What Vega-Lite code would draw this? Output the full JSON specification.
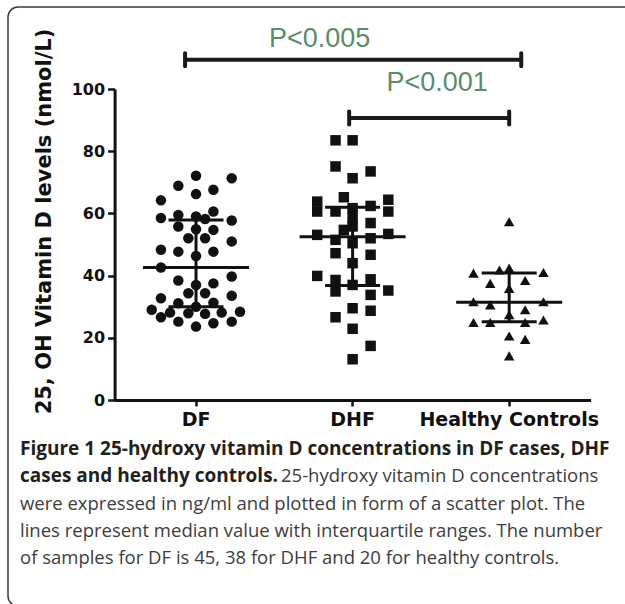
{
  "$schema": "https://vega.github.io/schema/vega-lite/v6.json",
  "autosize": {"type": "none"},
  "padding": {"left": 8, "top": 7, "right": -13, "bottom": -2},
  "width": 630,
  "height": 599,
  "background": "white",
  "config": {
    "view": {"stroke": "#3a3a3a", "strokeWidth": 1.5, "cornerRadius": 10, "fill": "white"}
  },
  "datasets": {
    "points": [
      {"group": "DF", "off": 0, "value": 72.1},
      {"group": "DF", "off": -0.113, "value": 68.9},
      {"group": "DF", "off": 0.228, "value": 71.3},
      {"group": "DF", "off": 0, "value": 66.2},
      {"group": "DF", "off": 0.111, "value": 67.6},
      {"group": "DF", "off": -0.224, "value": 64.2},
      {"group": "DF", "off": -0.224, "value": 58.5},
      {"group": "DF", "off": -0.113, "value": 59.5},
      {"group": "DF", "off": 0, "value": 59.0},
      {"group": "DF", "off": 0.111, "value": 60.6},
      {"group": "DF", "off": 0.228, "value": 57.7},
      {"group": "DF", "off": -0.113, "value": 55.8},
      {"group": "DF", "off": 0.111, "value": 54.7},
      {"group": "DF", "off": -0.049, "value": 52.0},
      {"group": "DF", "off": 0.058, "value": 52.0},
      {"group": "DF", "off": 0.228, "value": 51.0},
      {"group": "DF", "off": 0, "value": 54.9},
      {"group": "DF", "off": -0.224, "value": 48.3},
      {"group": "DF", "off": -0.113, "value": 47.7},
      {"group": "DF", "off": 0, "value": 46.3},
      {"group": "DF", "off": 0.111, "value": 47.7},
      {"group": "DF", "off": -0.224, "value": 42.6},
      {"group": "DF", "off": -0.113, "value": 38.4},
      {"group": "DF", "off": 0, "value": 37.0},
      {"group": "DF", "off": 0.111, "value": 37.5},
      {"group": "DF", "off": 0.228, "value": 39.7},
      {"group": "DF", "off": -0.049, "value": 34.3},
      {"group": "DF", "off": 0.058, "value": 34.3},
      {"group": "DF", "off": 0.228, "value": 33.5},
      {"group": "DF", "off": -0.224, "value": 32.7},
      {"group": "DF", "off": -0.113, "value": 31.1},
      {"group": "DF", "off": 0.111, "value": 31.3},
      {"group": "DF", "off": 0, "value": 30.0},
      {"group": "DF", "off": -0.283, "value": 29.0},
      {"group": "DF", "off": -0.166, "value": 28.1},
      {"group": "DF", "off": -0.049, "value": 27.9},
      {"group": "DF", "off": 0.058, "value": 27.7},
      {"group": "DF", "off": 0.164, "value": 28.1},
      {"group": "DF", "off": 0.281, "value": 28.4},
      {"group": "DF", "off": -0.224, "value": 26.6},
      {"group": "DF", "off": -0.113, "value": 25.2},
      {"group": "DF", "off": 0, "value": 23.6},
      {"group": "DF", "off": 0.111, "value": 24.7},
      {"group": "DF", "off": 0.228, "value": 25.2},
      {"group": "DF", "off": 0.058, "value": 58.2},
      {"group": "DHF", "off": -0.109, "value": 83.5},
      {"group": "DHF", "off": 0, "value": 83.5},
      {"group": "DHF", "off": -0.109, "value": 75.1},
      {"group": "DHF", "off": 0, "value": 71.3},
      {"group": "DHF", "off": 0.115, "value": 73.5},
      {"group": "DHF", "off": -0.056, "value": 65.2},
      {"group": "DHF", "off": -0.226, "value": 63.8},
      {"group": "DHF", "off": -0.226, "value": 60.6},
      {"group": "DHF", "off": -0.109, "value": 60.6},
      {"group": "DHF", "off": 0, "value": 61.7},
      {"group": "DHF", "off": 0.115, "value": 62.4},
      {"group": "DHF", "off": 0.228, "value": 64.4},
      {"group": "DHF", "off": 0.228, "value": 60.6},
      {"group": "DHF", "off": 0.115, "value": 56.9},
      {"group": "DHF", "off": 0, "value": 55.8},
      {"group": "DHF", "off": -0.056, "value": 54.7},
      {"group": "DHF", "off": -0.226, "value": 53.1},
      {"group": "DHF", "off": -0.109, "value": 51.5},
      {"group": "DHF", "off": -0.109, "value": 47.2},
      {"group": "DHF", "off": 0, "value": 50.4},
      {"group": "DHF", "off": 0.115, "value": 52.0},
      {"group": "DHF", "off": 0.228, "value": 53.4},
      {"group": "DHF", "off": 0.115, "value": 46.7},
      {"group": "DHF", "off": 0, "value": 44.0},
      {"group": "DHF", "off": -0.226, "value": 39.9},
      {"group": "DHF", "off": -0.109, "value": 38.6},
      {"group": "DHF", "off": -0.109, "value": 34.9},
      {"group": "DHF", "off": 0, "value": 37.0},
      {"group": "DHF", "off": 0.115, "value": 38.8},
      {"group": "DHF", "off": 0.115, "value": 33.8},
      {"group": "DHF", "off": 0.228, "value": 35.2},
      {"group": "DHF", "off": 0, "value": 29.5},
      {"group": "DHF", "off": 0.115, "value": 28.7},
      {"group": "DHF", "off": -0.109, "value": 26.6},
      {"group": "DHF", "off": 0, "value": 22.9},
      {"group": "DHF", "off": 0.115, "value": 17.4},
      {"group": "DHF", "off": 0, "value": 13.1},
      {"group": "DHF", "off": 0, "value": 58.5},
      {"group": "Healthy Controls", "off": -0.228, "value": 40.8},
      {"group": "Healthy Controls", "off": -0.062, "value": 41.8},
      {"group": "Healthy Controls", "off": 0, "value": 42.4},
      {"group": "Healthy Controls", "off": 0.219, "value": 41.0},
      {"group": "Healthy Controls", "off": -0.121, "value": 37.5},
      {"group": "Healthy Controls", "off": 0.102, "value": 38.4},
      {"group": "Healthy Controls", "off": 0, "value": 35.9},
      {"group": "Healthy Controls", "off": -0.228, "value": 31.6},
      {"group": "Healthy Controls", "off": -0.121, "value": 30.6},
      {"group": "Healthy Controls", "off": 0.219, "value": 31.6},
      {"group": "Healthy Controls", "off": 0.102, "value": 29.0},
      {"group": "Healthy Controls", "off": 0, "value": 27.4},
      {"group": "Healthy Controls", "off": -0.228, "value": 24.9},
      {"group": "Healthy Controls", "off": -0.121, "value": 24.9},
      {"group": "Healthy Controls", "off": 0.102, "value": 24.9},
      {"group": "Healthy Controls", "off": 0.219, "value": 25.7},
      {"group": "Healthy Controls", "off": 0, "value": 20.6},
      {"group": "Healthy Controls", "off": 0.102, "value": 19.5},
      {"group": "Healthy Controls", "off": 0, "value": 14.2},
      {"group": "Healthy Controls", "off": 0, "value": 57.3}
    ],
    "summary": [
      {"group": "DF", "median": 42.6, "q1": 30.0, "q3": 57.9},
      {"group": "DHF", "median": 52.5, "q1": 36.8, "q3": 62.0},
      {"group": "Healthy Controls", "median": 31.4, "q1": 25.2, "q3": 40.8}
    ],
    "brackets": [
      {"label": "P<0.005", "x1": 0.93, "x2": 3.077, "level": 109.4, "tx": 1.79, "ty": 113.5},
      {"label": "P<0.001", "x1": 1.978, "x2": 3.0, "level": 90.7, "tx": 2.54, "ty": 99.4}
    ],
    "caption": [
      {"line": 1, "seg": 1, "bold": true, "text": "Figure 1 25-hydroxy vitamin D concentrations in DF cases, DHF"},
      {"line": 2, "seg": 1, "bold": true, "text": "cases and healthy controls."},
      {"line": 2, "seg": 2, "bold": false, "text": "25-hydroxy vitamin D concentrations"},
      {"line": 3, "seg": 1, "bold": false, "text": "were expressed in ng/ml and plotted in form of a scatter plot. The"},
      {"line": 4, "seg": 1, "bold": false, "text": "lines represent median value with interquartile ranges. The number"},
      {"line": 5, "seg": 1, "bold": false, "text": "of samples for DF is 45, 38 for DHF and 20 for healthy controls."}
    ]
  },
  "layer": [
    {
      "layer": [
        {
          "layer": [
            {
              "data": {"name": "points"},
              "mark": {"type": "point", "filled": true, "opacity": 1, "color": "#111111", "size": 110},
              "encoding": {
                "x": {"field": "group", "type": "nominal", "sort": ["DF", "DHF", "Healthy Controls"],
                  "scale": {"type": "band", "domain": ["DF", "DHF", "Healthy Controls"], "range": [106.6, 582.6], "paddingInner": 0, "paddingOuter": 0.02},
                  "axis": {"orient": "bottom", "offset": -206, "title": null, "labelAngle": 0, "labelFont": "DejaVu Sans", "labelFontWeight": "bold", "labelFontSize": 19, "labelColor": "#111111", "labelPadding": 4, "tickSize": 6, "tickWidth": 2.5, "tickColor": "#111111", "domainWidth": 3, "domainColor": "#111111", "labelOverlap": false, "labelBound": false, "grid": false}},
                "xOffset": {"field": "off", "type": "quantitative", "scale": {"domain": [-0.5, 0.5]}},
                "y": {"field": "value", "type": "quantitative",
                  "scale": {"domain": [0, 100], "range": [393, 82], "nice": false, "zero": false},
                  "axis": {"orient": "left", "offset": -106.6, "values": [0, 20, 40, 60, 80, 100], "title": "25, OH Vitamin D levels (nmol/L)", "titleFont": "DejaVu Sans", "titleFontWeight": "bold", "titleFontSize": 21, "titleColor": "#111111", "titlePadding": 17, "titleY": 214, "labelFont": "DejaVu Sans", "labelFontWeight": "bold", "labelFontSize": 16, "labelColor": "#111111", "labelPadding": 3, "tickSize": 7, "tickWidth": 2.5, "tickColor": "#111111", "domainWidth": 3, "domainColor": "#111111", "grid": false}},
                "shape": {"field": "group", "type": "nominal", "scale": {"domain": ["DF", "DHF", "Healthy Controls"], "range": ["circle", "square", "triangle-up"]}, "legend": null}
              }
            },
            {
              "data": {"name": "summary"},
              "mark": {"type": "tick", "orient": "horizontal", "size": 106, "thickness": 3, "color": "#111111", "opacity": 1},
              "encoding": {
                "x": {"field": "group", "type": "nominal"},
                "y": {"field": "median", "type": "quantitative"}
              }
            },
            {
              "data": {"name": "summary"},
              "mark": {"type": "tick", "orient": "horizontal", "size": 55, "thickness": 3, "color": "#111111", "opacity": 1},
              "encoding": {
                "x": {"field": "group", "type": "nominal"},
                "y": {"field": "q1", "type": "quantitative"}
              }
            },
            {
              "data": {"name": "summary"},
              "mark": {"type": "tick", "orient": "horizontal", "size": 55, "thickness": 3, "color": "#111111", "opacity": 1},
              "encoding": {
                "x": {"field": "group", "type": "nominal"},
                "y": {"field": "q3", "type": "quantitative"}
              }
            },
            {
              "data": {"name": "summary"},
              "mark": {"type": "rule", "strokeWidth": 3, "color": "#111111"},
              "encoding": {
                "x": {"field": "group", "type": "nominal"},
                "y": {"field": "q1", "type": "quantitative"},
                "y2": {"field": "q3"}
              }
            }
          ]
        },
        {
          "data": {"name": "brackets"},
          "layer": [
            {
              "mark": {"type": "rule", "strokeWidth": 4, "color": "#1a1a1a"},
              "encoding": {
                "x": {"field": "x1", "type": "quantitative", "scale": {"domain": [0.48, 3.52], "range": [106.6, 582.6], "nice": false, "zero": false}, "axis": null},
                "x2": {"field": "x2"},
                "y": {"field": "level", "type": "quantitative"}
              }
            },
            {
              "mark": {"type": "tick", "orient": "vertical", "size": 17, "thickness": 4, "color": "#1a1a1a", "opacity": 1, "cornerRadius": 2},
              "encoding": {
                "x": {"field": "x1", "type": "quantitative"},
                "y": {"field": "level", "type": "quantitative"}
              }
            },
            {
              "mark": {"type": "tick", "orient": "vertical", "size": 17, "thickness": 4, "color": "#1a1a1a", "opacity": 1, "cornerRadius": 2},
              "encoding": {
                "x": {"field": "x2", "type": "quantitative"},
                "y": {"field": "level", "type": "quantitative"}
              }
            },
            {
              "mark": {"type": "text", "font": "Liberation Sans", "fontSize": 27, "color": "#5a8c68", "align": "center", "baseline": "alphabetic"},
              "encoding": {
                "x": {"field": "tx", "type": "quantitative"},
                "y": {"field": "ty", "type": "quantitative"},
                "text": {"field": "label"}
              }
            }
          ]
        }
      ],
      "resolve": {"scale": {"x": "independent"}}
    },
    {
      "data": {"name": "caption"},
      "layer": [
        {
          "transform": [{"filter": "datum.bold"}],
          "mark": {"type": "text", "font": "Open Sans", "fontWeight": "bold", "fontSize": 19, "color": "#231f20", "align": "left", "baseline": "alphabetic"},
          "encoding": {
            "x": {"value": 12},
            "y": {"field": "line", "type": "quantitative", "scale": {"domain": [1, 5], "range": [448, 557], "nice": false, "zero": false}, "axis": null},
            "text": {"field": "text"}
          }
        },
        {
          "transform": [{"filter": "!datum.bold && datum.seg == 1"}],
          "mark": {"type": "text", "font": "Open Sans", "fontSize": 18.5, "color": "#3d3d3d", "align": "left", "baseline": "alphabetic"},
          "encoding": {
            "x": {"value": 12},
            "y": {"field": "line", "type": "quantitative"},
            "text": {"field": "text"}
          }
        },
        {
          "transform": [{"filter": "datum.seg == 2"}],
          "mark": {"type": "text", "font": "Open Sans", "fontSize": 18.5, "color": "#3d3d3d", "align": "left", "baseline": "alphabetic"},
          "encoding": {
            "x": {"value": 273},
            "y": {"field": "line", "type": "quantitative"},
            "text": {"field": "text"}
          }
        }
      ]
    }
  ],
  "resolve": {"scale": {"x": "independent", "y": "independent"}}
}
